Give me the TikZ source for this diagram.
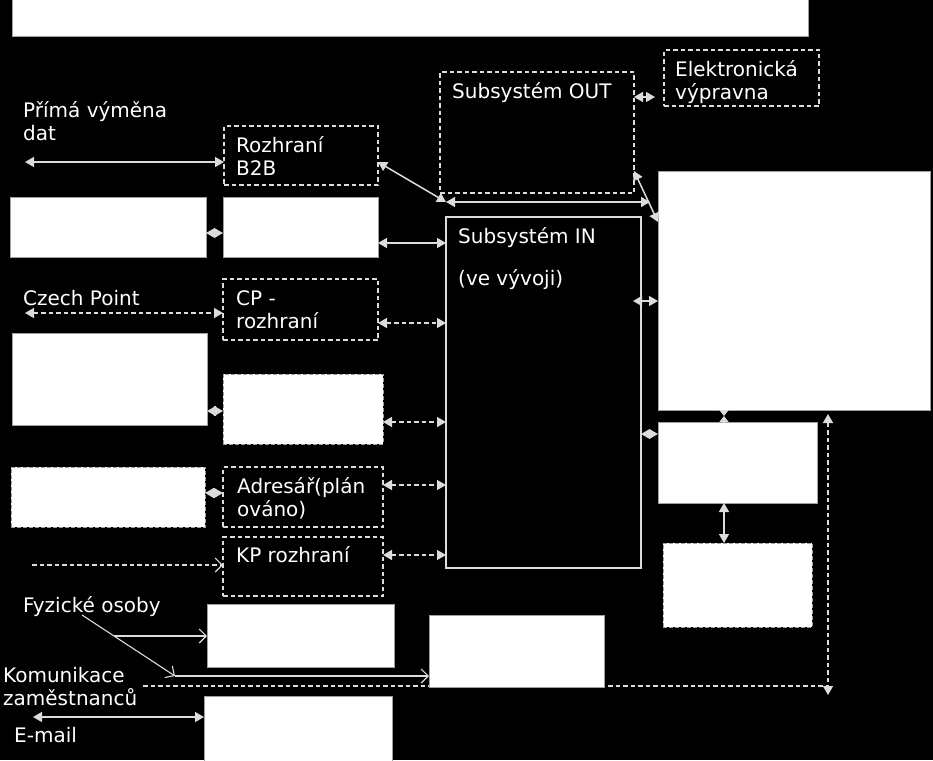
\documentclass[tikz,border=0pt]{standalone}
\usepackage{fontspec}
\setmainfont{DejaVu Sans}
\usetikzlibrary{arrows.meta,calc}
\definecolor{lgray}{HTML}{DCDCDC}
\definecolor{bgray}{HTML}{A0A0A0}
\newcommand\ml[1]{\begin{tabular}[t]{@{}l@{}}#1\end{tabular}}
\newcommand\bx[6]{\node[#2,minimum width=#5pt-#3pt,minimum height=#6pt-#4pt,inner sep=0pt,outer sep=0pt] (#1) at ({(#3+#5)/2},{(#4+#6)/2}) {};}
\begin{document}
\begin{tikzpicture}[x=1pt,y=-1pt,
  wbox/.style={fill=white,draw=bgray,line width=1pt},
  wdbox/.style={fill=white,draw=bgray,line width=1pt,dash pattern=on 4pt off 2pt},
  dbox/.style={draw=lgray,line width=1.4pt,dash pattern=on 4.5pt off 3pt},
  inbox/.style={draw=lgray,line width=1.4pt},
  ln/.style={draw=lgray,line width=1.5pt},
  dl/.style={ln,dash pattern=on 4.5pt off 3pt},
  thin/.style={draw=lgray,line width=1.1pt},
  >={Triangle[length=9pt,width=10pt]},
  opn/.style={-{Straight Barb[length=7pt,width=14pt]}},
  lbl/.style={anchor=base west,inner sep=0pt,text=white,font=\fontsize{20}{23}\selectfont}]
\fill[black] (0,0) rectangle (933,760);
\useasboundingbox (0,0) rectangle (933,760);

% boxes
\bx{top}{wbox}{12}{0}{808}{37}
\bx{b2b}{dbox}{224}{126}{378}{185}
\bx{l1}{wbox}{10}{197}{206}{257}
\bx{l1b}{wbox}{223}{197}{378}{257}
\bx{out}{dbox}{440}{72}{634}{193}
\bx{elek}{dbox}{664}{50}{819}{106}
\bx{in}{inbox}{446}{217}{641}{568}
\bx{r1}{wbox}{658}{171}{930}{410}
\bx{r2}{wbox}{658}{422}{817}{503}
\bx{r3}{wdbox}{663}{543}{812}{627}
\bx{cp}{dbox}{223}{279}{378}{340}
\bx{l2}{wbox}{12}{333}{207}{425}
\bx{m2}{wdbox}{223}{374}{383}{444}
\bx{l3}{wdbox}{11}{467}{205}{527}
\bx{adr}{dbox}{223}{467}{383}{527}
\bx{kp}{dbox}{223}{537}{383}{596}

% free ends
\coordinate (pA) at (25,162);
\coordinate (cpA) at (25,313);
\coordinate (kpA) at (32,565);
\coordinate (fyA) at (82,615);
\coordinate (fyB) at (114,636);
\coordinate (fyC) at (175,676);
\coordinate (kom) at (143,686);
\coordinate (v3) at (828,686);
\coordinate (v1) at (828,414);
\coordinate (v2) at (828,695);
\coordinate (emA) at (33,717);
\coordinate (j1) at (446,202);
\coordinate (j2) at (650,202);
\coordinate (hm) at (724,416);

% long dashed line behind lower boxes
\draw[dl] (kom) -- (v3);
\draw[dl,<->] (v1) -- (v2);

\bx{f1}{wbox}{207}{604}{394}{667}
\bx{f2}{wbox}{429}{615}{604}{687}
\bx{f3}{wbox}{204}{696}{392}{762}

% connectors
\draw[ln,<->] (pA) -- (b2b.west |- pA);
\draw[ln,<->] (l1.east |- 0,233) -- (l1b.west |- 0,233);
\draw[ln,<->] (l1b.east |- 0,243) -- (in.west |- 0,243);
\draw[ln,<->] (b2b.east |- 0,162) -- (j1);
\draw[ln,<->] (j1) -- (j2);
\draw[ln,<->] (out.east |- 0,171) -- (r1.west |- 0,222);
\draw[ln,<->,shorten >=9pt] (out.east |- 0,97) -- (elek.west |- 0,97);
\draw[ln,<->] ($(in.east |- 0,301)+(-8,0)$) -- (r1.west |- 0,301);
\draw[ln,<->] (in.east |- 0,434) -- (r2.west |- 0,434);
\draw[ln,-{Triangle[length=6pt,width=9pt]}] (r1.south -| hm) -- (hm);
\draw[ln,-{Triangle[length=6pt,width=9pt]}] (r2.north -| hm) -- (hm);
\draw[ln,<->] (r2.south -| 724,0) -- (r3.north -| 724,0);
\draw[dl,<->] (cpA) -- (cp.west |- cpA);
\draw[dl,<->] (cp.east |- 0,323) -- (in.west |- 0,323);
\draw[ln,<->] (l2.east |- 0,411) -- (m2.west |- 0,411);
\draw[dl,<->] (m2.east |- 0,422) -- (in.west |- 0,422);
\draw[ln,<->] (l3.east |- 0,493) -- (adr.west |- 0,493);
\draw[dl,<->] (adr.east |- 0,485) -- (in.west |- 0,485);
\draw[dl,<->] (kp.east |- 0,555) -- (in.west |- 0,555);
\draw[thin,dash pattern=on 4.5pt off 3pt,opn] (kpA) -- (kp.west |- kpA);
\draw[thin,opn] (fyA) -- (fyC);
\draw[thin,opn] (fyB) -- (f1.west |- fyB);
\draw[thin,opn] (fyC) -- (f2.west |- fyC);
\draw[ln,<->] (emA) -- (f3.west |- emA);

% labels
\node[lbl] (tPrima) at (23,117) {\ml{Přímá výměna\\dat}};
\node[lbl] (tB2B) at (236,152) {\ml{Rozhraní\\B2B}};
\node[lbl] (tOut) at (452,98) {Subsystém OUT};
\node[lbl] (tElek) at (675,76) {\ml{Elektronická\\výpravna}};
\node[lbl] (tIn) at (458,243) {Subsystém IN};
\node[lbl] (tVyv) at (458,285) {(ve vývoji)};
\node[lbl] (tCzech) at (23,305) {Czech Point};
\node[lbl] (tCP) at (236,305) {\ml{CP -\\rozhraní}};
\node[lbl] (tAdr) at (237,493) {\ml{Adresář(plán\\ováno)}};
\node[lbl] (tKP) at (236,562) {KP rozhraní};
\node[lbl] (tFyz) at (23,612) {Fyzické osoby};
\node[lbl] (tKom) at (3,682) {\ml{Komunikace\\zaměstnanců}};
\node[lbl] (tMail) at (14,742) {E-mail};
\end{tikzpicture}
\end{document}
